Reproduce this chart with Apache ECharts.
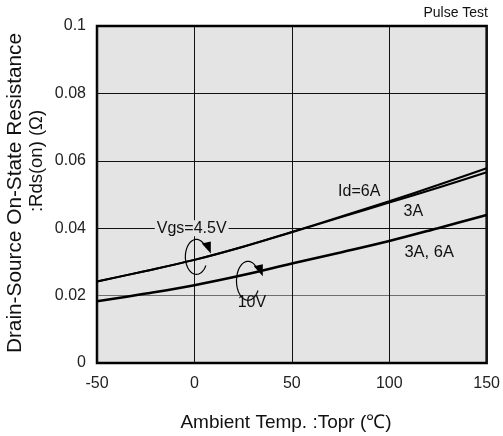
<!DOCTYPE html>
<html>
<head>
<meta charset="utf-8">
<script src="https://cdn.jsdelivr.net/npm/echarts@6/dist/echarts.min.js"></script>
<style>
  html, body { margin: 0; padding: 0; background: #fff; }
  #chart { width: 503px; height: 436px; }
</style>
</head>
<body>
<div id="chart"></div>
<script>
// Ambient temperature (°C)
const temps = [-50, -25, 0, 25, 50, 75, 100, 125, 150];
// Rds(on) in ohms
const vgs45_id6A = [0.0242, 0.0273, 0.0306, 0.0345, 0.0389, 0.0434, 0.0480, 0.0528, 0.0578];
const vgs45_id3A = [0.0242, 0.0273, 0.0306, 0.0345, 0.0388, 0.0432, 0.0476, 0.0520, 0.0566];
const vgs10_id3A6A = [0.0183, 0.0206, 0.0231, 0.0261, 0.0295, 0.0328, 0.0362, 0.0400, 0.0439];

const xTicks = [-50, 0, 50, 100, 150];
const yTicks = [0, 0.02, 0.04, 0.06, 0.08, 0.1];

const FONT = '"Liberation Sans", Arial, sans-serif';

const chart = echarts.init(document.getElementById('chart'), null, { renderer: 'canvas' });

const pair = arr => temps.map((t, i) => [t, arr[i]]);
const lineSeries = (name, data, width) => ({
  name, type: 'line', data: pair(data), smooth: 0.35, symbol: 'none',
  lineStyle: { color: '#000', width }, z: 5
});

chart.setOption({
  animation: false,
  grid: {
    left: 97, right: 15, top: 26, bottom: 73,
    show: true, backgroundColor: '#e4e4e4', borderColor: '#000', borderWidth: 2.5
  },
  xAxis: {
    type: 'value', min: -50, max: 150, interval: 50,
    axisLine: { show: false }, axisTick: { show: false },
    axisLabel: { color: '#222', fontSize: 16, fontFamily: FONT, margin: 13,
      formatter: v => xTicks.includes(v) ? String(v) : '' },
    splitLine: { show: true, lineStyle: { color: '#111', width: 1 } }
  },
  yAxis: {
    type: 'value', min: 0, max: 0.1, interval: 0.02,
    axisLine: { show: false }, axisTick: { show: false },
    axisLabel: { color: '#222', fontSize: 16, fontFamily: FONT, margin: 11,
      formatter: v => {
        const t = yTicks.find(k => Math.abs(k - v) < 1e-9);
        return t === undefined ? '' : String(+t.toFixed(2));
      } },
    splitLine: { show: true, lineStyle: { color: ['#000', '#6e6e6e', '#111', '#111', '#111', '#000'], width: 1.2 } }
  },
  series: [
    lineSeries('Vgs=4.5V Id=6A', vgs45_id6A, 2),
    lineSeries('Vgs=4.5V Id=3A', vgs45_id3A, 2),
    lineSeries('Vgs=10V Id=3A,6A', vgs10_id3A6A, 2.6)
  ]
});

// Annotations placed in data coordinates
function px(x, y) { return chart.convertToPixel({ gridIndex: 0 }, [x, y]); }

// open ellipse with an arrowhead: runs round the bottom and left, ends upper right
function loopArrow(cx, cy, rx, ry) {
  const c = px(cx, cy);
  const pts = [];
  for (let a = 30; a <= 320; a += 5) {
    const r = a * Math.PI / 180;
    pts.push([c[0] + rx * Math.cos(r), c[1] + ry * Math.sin(r)]);
  }
  const end = pts[pts.length - 1];
  return [
    { type: 'polyline', shape: { points: pts }, style: { stroke: '#000', lineWidth: 1.2, fill: null }, z: 10 },
    { type: 'polygon', shape: { points: [[end[0] + 6, end[1] + 8], [end[0] - 3, end[1] - 2], [end[0] + 6, end[1] - 4]] },
      style: { fill: '#000' }, z: 10 }
  ];
}

function label(text, x, y, extra) {
  const p = px(x, y);
  return {
    type: 'text', x: p[0], y: p[1], z: 12,
    style: Object.assign({ text, fontSize: 16, fontFamily: FONT, fill: '#111', align: 'center', verticalAlign: 'middle' }, extra || {})
  };
}

const graphics = [];
graphics.push(label('Vgs=4.5V', -1.4, 0.0400, { backgroundColor: '#e4e4e4', padding: [0, 2] }));
graphics.push(label('Id=6A', 84.6, 0.0508));
graphics.push(label('3A', 112.4, 0.0449));
graphics.push(label('3A, 6A', 120.5, 0.0328, { fontSize: 16.5 }));
graphics.push(label('10V', 29.5, 0.0180));
graphics.push(...loopArrow(1, 0.0315, 11, 17.5));
graphics.push(...loopArrow(27.5, 0.0244, 11.5, 19.5));
graphics.push({
  type: 'text', x: 488, y: 13, z: 12,
  style: { text: 'Pulse Test', fontSize: 14, fontFamily: FONT, fill: '#111', align: 'right', verticalAlign: 'middle' }
});
graphics.push({
  type: 'text', x: 286, y: 423, z: 12,
  style: { text: 'Ambient Temp. :Topr (\u2103)', fontSize: 19, fontFamily: FONT, fill: '#111', align: 'center', verticalAlign: 'middle' }
});
graphics.push({
  type: 'text', x: 15, y: 193, rotation: Math.PI / 2, z: 12,
  style: { text: 'Drain-Source On-State Resistance', fontSize: 20.8, fontFamily: FONT, fill: '#111', align: 'center', verticalAlign: 'middle' }
});
graphics.push({
  type: 'text', x: 37, y: 161, rotation: Math.PI / 2, z: 12,
  style: { text: ':Rds(on) (\u03A9)', fontSize: 18.5, fontFamily: FONT, fill: '#111', align: 'center', verticalAlign: 'middle' }
});

chart.setOption({ graphic: graphics });
</script>
</body>
</html>
